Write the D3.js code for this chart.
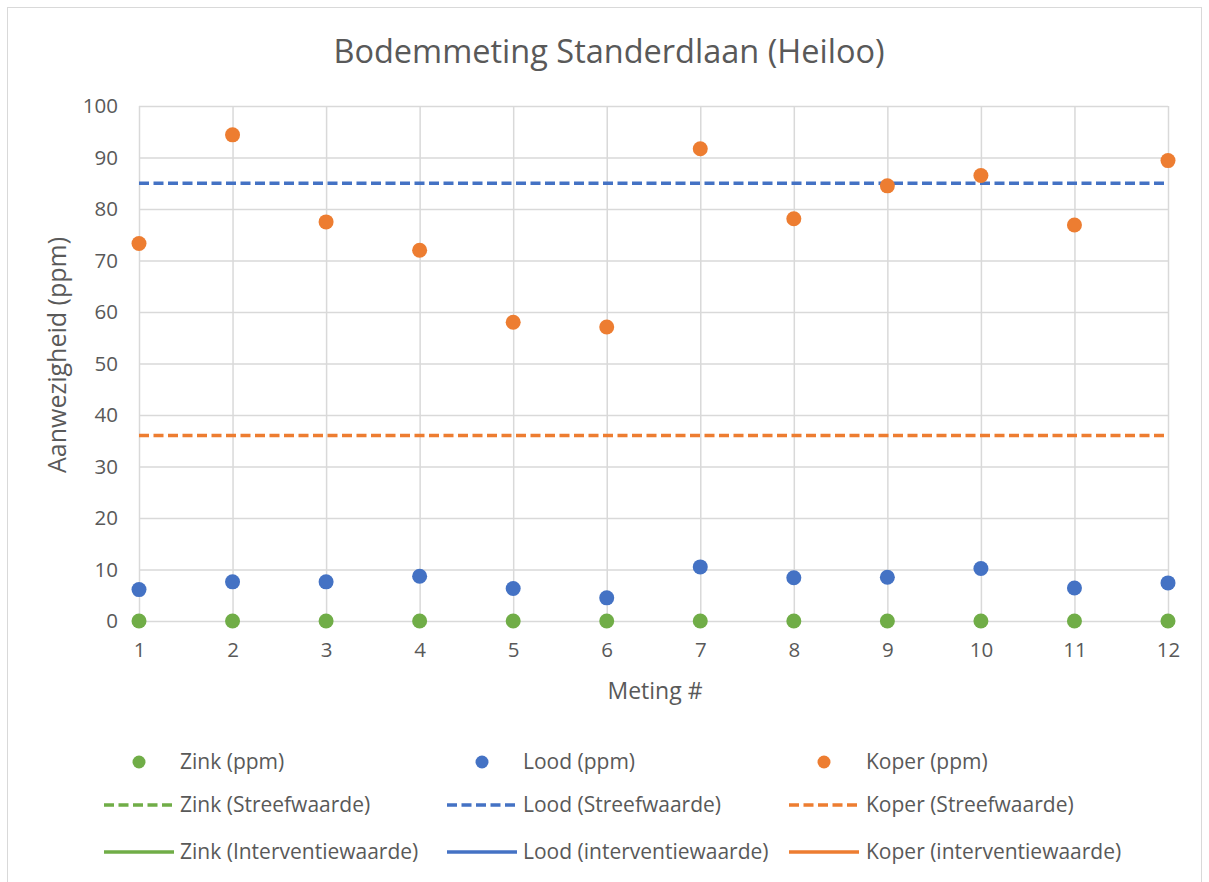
<!DOCTYPE html>
<html><head><meta charset="utf-8">
<script src="https://cdn.jsdelivr.net/npm/d3@7"></script>
<style>
body{margin:0;background:#fff;}
svg text{font-family:"Open Sans","Liberation Sans",sans-serif;fill:#595959;}
</style></head>
<body><svg id="c" width="1209" height="882"></svg>
<script>
const metingen = [1,2,3,4,5,6,7,8,9,10,11,12];
const zink  = [0,0,0,0,0,0,0,0,0,0,0,0];
const lood  = [6.1,7.6,7.6,8.7,6.3,4.5,10.5,8.4,8.5,10.2,6.4,7.4];
const koper = [73.3,94.4,77.5,72.0,58.0,57.1,91.7,78.1,84.5,86.5,76.9,89.4];
const zinkStreef = 140, loodStreef = 85, koperStreef = 36;
const zinkInterventie = 720, loodInterventie = 530, koperInterventie = 190;
const yTicks = [0,10,20,30,40,50,60,70,80,90,100];
const colors = {zink:"#70ad47", lood:"#4472c4", koper:"#ed7d31"};

const svg = d3.select("#c");
svg.append("rect").attr("x",7.5).attr("y",7.5).attr("width",1194).attr("height",890)
  .attr("fill","#fff").attr("stroke","#d9d9d9").attr("stroke-width",1);

const x = d3.scaleLinear().domain([1,12]).range([139,1168]);
const y = d3.scaleLinear().domain([0,100]).range([621,106]);

svg.append("defs").append("clipPath").attr("id","clip")
  .append("rect").attr("x",130).attr("y",100).attr("width",1050).attr("height",530);

// gridlines
const gy = svg.append("g").attr("transform","translate(139,0)")
  .call(d3.axisLeft(y).tickValues(yTicks).tickSize(-(1168-139)).tickFormat(""));
gy.select(".domain").remove();
gy.selectAll("line").attr("stroke","#d9d9d9").attr("stroke-width",1.5);
const gx = svg.append("g").attr("transform","translate(0,106)")
  .call(d3.axisBottom(x).tickValues(metingen).tickSize(621-106).tickFormat(""));
gx.select(".domain").remove();
gx.selectAll("line").attr("stroke","#d9d9d9").attr("stroke-width",1.5);

// axis labels
const ay = svg.append("g").attr("transform","translate(139,0)")
  .call(d3.axisLeft(y).tickValues(yTicks).tickSize(0).tickPadding(21));
ay.select(".domain").remove();
ay.selectAll("text").attr("font-size",20.5).style("fill","#595959");
const ax = svg.append("g").attr("transform","translate(0,621)")
  .call(d3.axisBottom(x).tickValues(metingen).tickSize(0).tickPadding(21).tickFormat(d3.format("d")));
ax.select(".domain").remove();
ax.selectAll("text").attr("font-size",20.5).style("fill","#595959");

// title & axis titles
svg.append("text").attr("x",609).attr("y",63).attr("text-anchor","middle")
  .attr("font-size",32.5).text("Bodemmeting Standerdlaan (Heiloo)");
svg.append("text").attr("x",655).attr("y",699).attr("text-anchor","middle")
  .attr("font-size",23).text("Meting #");
svg.append("text").attr("transform","translate(66,355) rotate(-90)").attr("text-anchor","middle")
  .attr("font-size",25).text("Aanwezigheid (ppm)");

// reference lines
const plot = svg.append("g").attr("clip-path","url(#clip)");
const refs = [
  {v:zinkStreef,c:colors.zink,dash:"10,4.5"},
  {v:loodStreef,c:colors.lood,dash:"10,4.5"},
  {v:koperStreef,c:colors.koper,dash:"10,4.5"},
  {v:zinkInterventie,c:colors.zink,dash:null},
  {v:loodInterventie,c:colors.lood,dash:null},
  {v:koperInterventie,c:colors.koper,dash:null}
];
refs.forEach(r=>{
  if(r.v>100) return;
  plot.append("line").attr("x1",x(1)).attr("x2",x(12)).attr("y1",y(r.v)).attr("y2",y(r.v))
    .attr("stroke",r.c).attr("stroke-width",3.5).attr("stroke-dasharray",r.dash);
});

// points
[[zink,colors.zink],[lood,colors.lood],[koper,colors.koper]].forEach(([arr,c])=>{
  plot.selectAll(null).data(arr).enter().append("circle")
    .attr("cx",(d,i)=>x(metingen[i])).attr("cy",d=>y(d)).attr("r",7.5).attr("fill",c);
});

// legend
const cols = [{lx:104,tx:180,name:"Zink",c:colors.zink,iv:"Interventiewaarde"},
              {lx:447,tx:523,name:"Lood",c:colors.lood,iv:"interventiewaarde"},
              {lx:789,tx:866,name:"Koper",c:colors.koper,iv:"interventiewaarde"}];
const rows = [762,805,852];
cols.forEach(col=>{
  const lw = 70;
  svg.append("circle").attr("cx",col.lx+lw/2).attr("cy",rows[0]).attr("r",6.5).attr("fill",col.c);
  svg.append("text").attr("x",col.tx).attr("y",rows[0]).attr("dy","0.35em").attr("font-size",21).text(col.name+" (ppm)");
  svg.append("line").attr("x1",col.lx).attr("x2",col.lx+lw).attr("y1",rows[1]).attr("y2",rows[1])
    .attr("stroke",col.c).attr("stroke-width",3.5).attr("stroke-dasharray","10,4.5");
  svg.append("text").attr("x",col.tx).attr("y",rows[1]).attr("dy","0.35em").attr("font-size",21).text(col.name+" (Streefwaarde)");
  svg.append("line").attr("x1",col.lx).attr("x2",col.lx+lw).attr("y1",rows[2]).attr("y2",rows[2])
    .attr("stroke",col.c).attr("stroke-width",3.5);
  svg.append("text").attr("x",col.tx).attr("y",rows[2]).attr("dy","0.35em").attr("font-size",21).text(col.name+" ("+col.iv+")");
});
</script></body></html>
